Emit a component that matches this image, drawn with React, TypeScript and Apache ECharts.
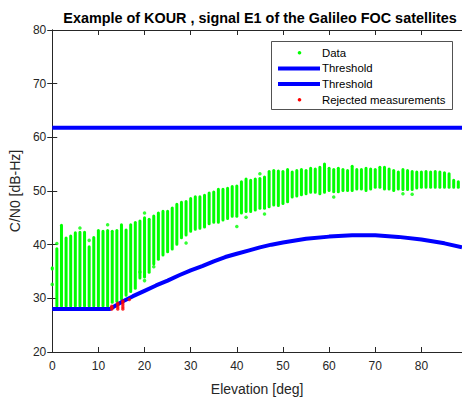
import React, { useEffect, useRef } from "react";
import * as echarts from "echarts";

// Elevation bins (deg) at which C/N0 samples were collected
const elevations = [
  0, 1, 2, 3, 4, 5, 6, 7, 8, 9, 10, 11, 12, 13, 14, 15, 16, 17, 18, 19, 20, 21, 22, 23, 24, 25, 26, 27, 28, 29,
  30, 31, 32, 33, 34, 35, 36, 37, 38, 39, 40, 41, 42, 43, 44, 45, 46, 47, 48, 49, 50, 51, 52, 53, 54, 55, 56, 57, 58, 59,
  60, 61, 62, 63, 64, 65, 66, 67, 68, 69, 70, 71, 72, 73, 74, 75, 76, 77, 78, 79, 80, 81, 82, 83, 84, 85, 86, 87, 88,
];

// Lowest accepted C/N0 in each elevation bin (dB-Hz)
const cn0Low = [
  35.2, 28.3, 28.3, 28.3, 28.3, 28.3, 28.3, 28.3, 28.3, 28.3, 28.3, 28.3, 28.3, 29.0, 29.2, 29.6, 30.3, 31.0, 31.6, 33.5,
  33.7, 34.6, 36.1, 37.0, 37.8, 38.4, 38.9, 39.8, 41.0, 41.5, 42.2, 42.6, 42.8, 43.0, 43.6, 43.9, 43.9, 44.3, 44.6, 45.0,
  45.0, 45.6, 45.9, 45.9, 46.2, 46.5, 46.5, 46.8, 47.1, 47.0, 47.4, 47.7, 48.6, 48.8, 49.0, 49.2, 49.5, 49.5, 49.2, 49.5,
  49.8, 49.6, 49.6, 49.8, 49.8, 49.8, 50.1, 50.1, 49.8, 50.1, 50.4, 50.4, 50.1, 50.1, 49.8, 50.1, 50.0, 50.0, 50.0, 50.3,
  50.4, 50.4, 50.4, 50.4, 50.4, 50.4, 50.4, 50.4, 50.4,
];

// Highest C/N0 in each elevation bin (dB-Hz)
const cn0High = [
  36.0, 39.5, 43.9, 41.5, 41.9, 42.5, 42.6, 42.6, 39.9, 41.6, 42.9, 42.8, 42.9, 42.8, 42.9, 44.0, 43.0, 44.0, 44.4, 44.7,
  45.3, 45.0, 45.6, 46.2, 46.5, 46.5, 47.1, 47.8, 48.2, 48.3, 48.9, 49.2, 49.2, 49.5, 49.9, 50.1, 50.6, 50.6, 50.8, 51.1,
  51.2, 52.0, 52.5, 52.3, 52.5, 52.6, 52.9, 53.9, 54.1, 54.0, 53.9, 54.3, 53.8, 54.1, 54.3, 54.1, 54.5, 54.4, 54.7, 55.3,
  54.5, 54.3, 54.5, 54.3, 54.1, 54.9, 54.3, 54.3, 54.5, 54.4, 54.3, 54.7, 54.7, 54.4, 54.1, 53.8, 54.3, 54.1, 53.9, 53.8,
  53.8, 53.9, 53.8, 53.9, 53.8, 53.7, 53.5, 52.3, 52.0,
];

// Isolated samples outside the dense bins: [elevation, C/N0]
const isolatedSamples: [number, number][] = [
  [0, 32.6], [1, 40.2], [6, 43.1], [8, 40.8], [12, 43.7], [19, 34.9], [20, 33.3], [20, 45.9], [22, 35.9],
  [29, 40.3], [40, 43.4], [42, 45.1], [45, 53.2], [46, 45.7], [61, 48.9], [76, 49.5], [78, 49.4],
];

// Samples rejected by the elevation-dependent mask: [elevation, C/N0]
const rejectedSamples: [number, number][] = [
  [12.9, 28.0], [12.9, 28.3], [12.9, 28.5],
  [14.2, 28.0], [14.2, 28.4], [14.2, 28.8], [14.2, 29.1],
  [15.3, 28.0], [15.3, 28.4], [15.3, 28.8], [15.3, 29.2], [15.3, 29.5],
  [16.7, 29.8],
];

// Upper fixed threshold (dB-Hz)
const upperThreshold = 61.8;

// Lower elevation-dependent threshold
const maskElevation = [
  0, 12.5, 15, 17.5, 20, 22.5, 25, 27.5, 30, 32.5, 35, 37.5, 40, 42.5, 45, 47.5, 50, 55, 60, 65, 70, 75, 80, 85, 88.8,
];
const maskCn0 = [
  28.0, 28.0, 29.3, 30.4, 31.4, 32.4, 33.3, 34.3, 35.2, 36.0, 36.9, 37.7, 38.3, 38.9, 39.5, 40.0, 40.4, 41.1, 41.5,
  41.75, 41.75, 41.45, 40.95, 40.25, 39.5,
];

const xMin = 0;
const xMax = 88.8;
const xStep = 10;
const yMin = 20;
const yMax = 80;
const yStep = 10;

const FONT = "'Liberation Sans', Arial, Helvetica, sans-serif";
const AXIS_COLOR = "#262626";
const GREEN = "#00ff00";
const BLUE = "#0000ff";
const RED = "#ff0000";

const legendItems = [
  { label: "Data", kind: "dot", color: GREEN },
  { label: "Threshold", kind: "line", color: BLUE },
  { label: "Threshold", kind: "line", color: BLUE },
  { label: "Rejected measurements", kind: "dot", color: RED },
];

function buildLegend() {
  const boxX = 271.5;
  const boxY = 41.5;
  const rowY0 = 52.7;
  const rowGap = 15.7;
  const children: any[] = [
    {
      type: "rect",
      shape: { x: boxX, y: boxY, width: 181, height: 68 },
      style: { fill: "#ffffff", stroke: AXIS_COLOR, lineWidth: 0.8 },
    },
  ];
  legendItems.forEach((item, i) => {
    const cy = rowY0 + i * rowGap;
    if (item.kind === "line") {
      children.push({
        type: "line",
        shape: { x1: 278, y1: cy, x2: 320, y2: cy },
        style: { stroke: item.color, lineWidth: 4 },
      });
    } else {
      children.push({
        type: "circle",
        shape: { cx: 299.5, cy, r: 1.8 },
        style: { fill: item.color },
      });
    }
    children.push({
      type: "text",
      style: {
        text: item.label,
        x: 322,
        y: cy,
        fontSize: 11.4,
        fontFamily: FONT,
        fill: "#000000",
        verticalAlign: "middle",
        align: "left",
      },
    });
  });
  return { type: "group", z: 100, children };
}

function axisBase(showLabels: boolean) {
  return {
    axisLine: { show: true, lineStyle: { color: AXIS_COLOR, width: 1 } },
    axisTick: { show: true, inside: true, length: 5, lineStyle: { color: AXIS_COLOR, width: 1 } },
    axisLabel: {
      show: showLabels,
      fontSize: 12,
      fontFamily: FONT,
      color: AXIS_COLOR,
      showMaxLabel: false,
    },
    splitLine: { show: false },
  };
}

export default function App() {
  const ref = useRef<HTMLDivElement>(null);

  useEffect(() => {
    if (!ref.current) return;
    const chart = echarts.init(ref.current, undefined, { renderer: "svg" });

    const binData = elevations.map((e, i) => [e, cn0Low[i], cn0High[i]]);
    const maskData = maskElevation.map((e, i) => [e, maskCn0[i]]);
    const upperData = [
      [xMin, upperThreshold],
      [xMax, upperThreshold],
    ];

    chart.setOption({
      animation: false,
      backgroundColor: "#ffffff",
      title: {
        text: "Example of KOUR , signal E1 of the Galileo FOC satellites",
        left: 255,
        top: 6,
        textAlign: "center",
        textStyle: { fontSize: 14.4, fontWeight: "bold", color: "#000000", fontFamily: FONT },
      },
      grid: { left: 48, top: 30, width: 414, height: 328 },
      xAxis: [
        {
          type: "value",
          position: "bottom",
          min: xMin,
          max: xMax,
          interval: xStep,
          name: "Elevation [deg]",
          nameLocation: "middle",
          nameGap: 30,
          nameTextStyle: { fontSize: 14, fontFamily: FONT, color: AXIS_COLOR },
          ...axisBase(true),
          axisLabel: { ...axisBase(true).axisLabel, margin: 8 },
        },
        {
          type: "value",
          position: "top",
          min: xMin,
          max: xMax,
          interval: xStep,
          ...axisBase(false),
        },
      ],
      yAxis: [
        {
          type: "value",
          position: "left",
          min: yMin,
          max: yMax,
          interval: yStep,
          name: "C/N0 [dB-Hz]",
          nameLocation: "middle",
          nameGap: 30,
          nameTextStyle: { fontSize: 14, fontFamily: FONT, color: AXIS_COLOR },
          ...axisBase(true),
          axisLabel: { ...axisBase(true).axisLabel, margin: 6, showMaxLabel: true },
        },
        {
          type: "value",
          position: "right",
          min: yMin,
          max: yMax,
          interval: yStep,
          ...axisBase(false),
        },
      ],
      graphic: [buildLegend()],
      series: [
        {
          name: "Data",
          type: "custom",
          clip: false,
          data: binData,
          renderItem: (params: any, api: any) => {
            const e = api.value(0);
            const top = api.coord([e, api.value(2)]);
            const bottom = api.coord([e, api.value(1)]);
            return {
              type: "rect",
              shape: {
                x: top[0] - 1.5,
                y: top[1],
                width: 3,
                height: Math.max(bottom[1] - top[1], 3),
                r: 1.5,
              },
              style: { fill: GREEN },
            };
          },
          z: 2,
        },
        {
          name: "Data",
          type: "scatter",
          clip: false,
          data: isolatedSamples,
          symbol: "circle",
          symbolSize: 3.5,
          itemStyle: { color: GREEN },
          z: 2,
        },
        {
          name: "Threshold",
          type: "line",
          data: upperData,
          showSymbol: false,
          symbol: "none",
          lineStyle: { color: BLUE, width: 4 },
          z: 3,
        },
        {
          name: "Threshold",
          type: "line",
          data: maskData,
          showSymbol: false,
          symbol: "none",
          lineStyle: { color: BLUE, width: 4 },
          z: 3,
        },
        {
          name: "Rejected measurements",
          type: "scatter",
          clip: false,
          data: rejectedSamples,
          symbol: "circle",
          symbolSize: 3.5,
          itemStyle: { color: RED },
          z: 4,
        },
      ],
    });

    return () => chart.dispose();
  }, []);

  return (
    <div
      ref={ref}
      style={{ position: "fixed", left: 0, top: 0, width: 462, height: 401, background: "#ffffff" }}
    />
  );
}
